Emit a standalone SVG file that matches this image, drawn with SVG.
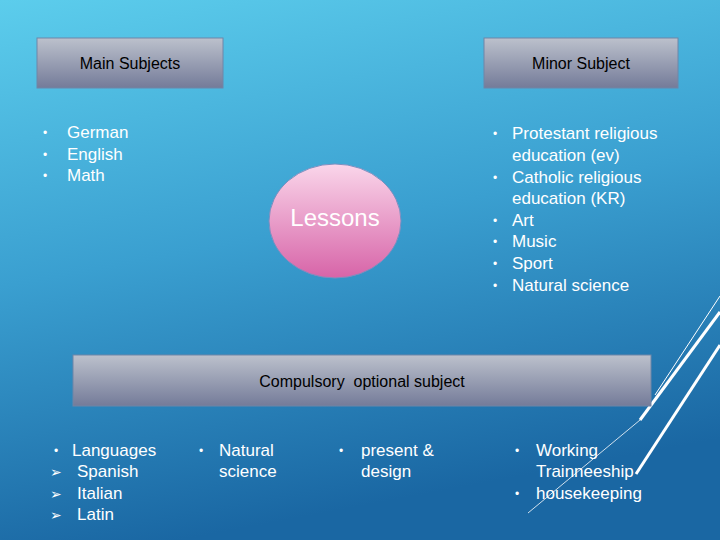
<svg xmlns="http://www.w3.org/2000/svg" width="720" height="540" viewBox="0 0 720 540">
<defs>
<linearGradient id="bg" x1="0" y1="0" x2="0.25" y2="1"><stop offset="0" stop-color="#5ccdec"/><stop offset="0.5" stop-color="#3a9fd0"/><stop offset="1" stop-color="#1a67a3"/></linearGradient>
<linearGradient id="box" x1="0" y1="0" x2="0" y2="1"><stop offset="0" stop-color="#bcc1cc"/><stop offset="1" stop-color="#747b99"/></linearGradient>
<linearGradient id="ell" x1="0" y1="0" x2="0" y2="1"><stop offset="0" stop-color="#fad6ea"/><stop offset="1" stop-color="#d764a8"/></linearGradient>
<style>
.h{font-family:"Liberation Sans",Arial,sans-serif;font-size:16px;fill:#000;white-space:pre}
.t{font-family:"Liberation Sans",Arial,sans-serif;font-size:17px;fill:#fff}
.s{font-size:12px}
.b{stroke:#6f86a8;stroke-width:1}
.d{stroke:#fff;fill:none}
</style>
</defs>
<rect width="720" height="540" fill="url(#bg)"/>
<g id="deco">
<line class="d" x1="720" y1="296" x2="655" y2="395" stroke-width="1"/>
<line class="d" x1="720" y1="312" x2="640" y2="420" stroke-width="3"/>
<line class="d" x1="720" y1="345" x2="636" y2="474" stroke-width="3"/>
<line class="d" x1="640" y1="420" x2="528" y2="513" stroke-width="0.8"/>
</g>
<g id="main"><rect class="b" x="37" y="38" width="186" height="50" fill="url(#box)"/><text class="h" x="130" y="69" text-anchor="middle">Main Subjects</text></g>
<g id="minor"><rect class="b" x="484" y="38" width="194" height="50" fill="url(#box)"/><text class="h" x="581" y="69" text-anchor="middle">Minor Subject</text></g>
<g id="lessons"><ellipse cx="335" cy="221" rx="66" ry="57" fill="url(#ell)" stroke="#7a8fc0"/><text x="335" y="226" text-anchor="middle" style="font-family:'Liberation Sans',Arial,sans-serif;font-size:24px;fill:#fff">Lessons</text></g>
<g id="compulsory"><rect class="b" x="73" y="355" width="578" height="51" fill="url(#box)"/><text class="h" x="362" y="387" text-anchor="middle">Compulsory  optional subject</text></g>
<g id="mainlist" class="t">
<text class="s" x="43" y="137">•</text><text x="67" y="138">German</text>
<text class="s" x="43" y="159">•</text><text x="67" y="160">English</text>
<text class="s" x="43" y="180">•</text><text x="67" y="181">Math</text>
</g>
<g id="minorlist" class="t">
<text class="s" x="493" y="138">•</text><text x="512" y="139">Protestant religious</text>
<text x="512" y="161">education (ev)</text>
<text class="s" x="493" y="182">•</text><text x="512" y="183">Catholic religious</text>
<text x="512" y="204">education (KR)</text>
<text class="s" x="493" y="225">•</text><text x="512" y="226">Art</text>
<text class="s" x="493" y="246">•</text><text x="512" y="247">Music</text>
<text class="s" x="493" y="268">•</text><text x="512" y="269">Sport</text>
<text class="s" x="493" y="290">•</text><text x="512" y="291">Natural science</text>
</g>
<g id="col1" class="t">
<text class="s" x="54" y="455">•</text><text x="72" y="456">Languages</text>
<text x="50" y="477" font-family="DejaVu Sans" font-size="14">➢</text><text x="77" y="477">Spanish</text>
<text x="50" y="499" font-family="DejaVu Sans" font-size="14">➢</text><text x="77" y="499">Italian</text>
<text x="50" y="520" font-family="DejaVu Sans" font-size="14">➢</text><text x="77" y="520">Latin</text>
</g>
<g id="col2" class="t"><text class="s" x="199" y="455">•</text><text x="219" y="456">Natural</text><text x="219" y="477">science</text></g>
<g id="col3" class="t"><text class="s" x="339" y="455">•</text><text x="361" y="456">present &amp;</text><text x="361" y="477">design</text></g>
<g id="col4" class="t"><text class="s" x="515" y="455">•</text><text x="536" y="456">Working</text><text x="536" y="477">Trainneeship</text><text class="s" x="515" y="498">•</text><text x="536" y="499">housekeeping</text></g>
</svg>
